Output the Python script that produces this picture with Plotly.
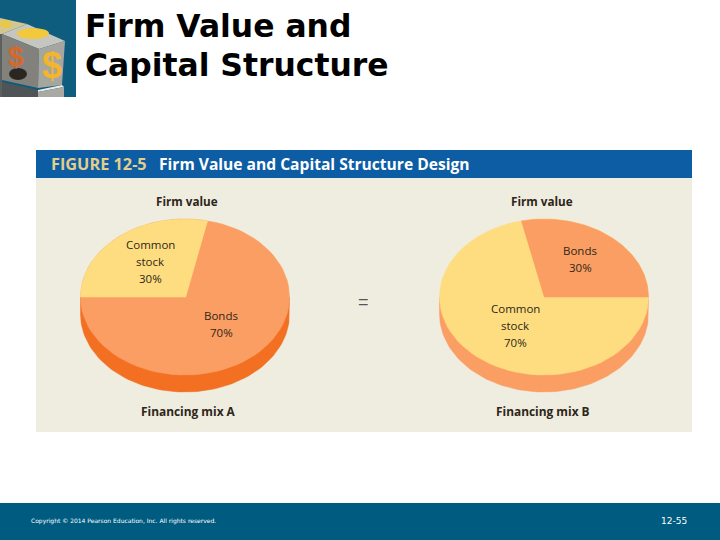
import numpy as np
import plotly.graph_objects as go

title_lines = ["Firm Value and", "Capital Structure"]
figure_no = "FIGURE 12-5"
figure_title = "Firm Value and Capital Structure Design"
pie_title = "Firm value"
mix_names = ["Financing mix A", "Financing mix B"]
bonds_share = [70, 30]
stock_share = [30, 70]
footer_left = "Copyright © 2014 Pearson Education, Inc. All rights reserved."
footer_right = "12-55"

BG_PANEL = "#efede0"
BAND = "#0d5da4"
FOOTER = "#005b80"
YELLOW = "#fedd80"
ORANGE = "#fb9e63"
DARK_ORANGE = "#f36f22"
LABEL_FONT = "Open Sans"
INK = "#2e2619"

RX, RY, DEPTH = 104.5, 78, 17
# the drawn wedges come out a bit narrower than their share of a full turn
SWEEP = 342


def arc(cx, cy, t0, t1, dy=0):
    t = np.radians(np.linspace(t0, t1, 90))
    return cx + RX * np.cos(t), cy - RY * np.sin(t) + dy


def poly(fig, x, y, color):
    fig.add_trace(go.Scatter(x=x, y=y, mode="lines", fill="toself", fillcolor=color,
                             line=dict(color=color, width=0.5), hoverinfo="skip", showlegend=False))


def note(text, x, y, size=12, color=INK, font=LABEL_FONT, anchor="center", bold=False):
    if bold:
        text = "<b>" + text + "</b>"
    fig.add_annotation(x=x, y=y, text=text, showarrow=False, xanchor=anchor, yanchor="middle",
                       align="center", borderpad=0, borderwidth=0,
                       font=dict(size=size, color=color, family=font))


def stacked(lines, x, y, size=11.5):
    # hand placed line spacing, wider than the default annotation leading
    for k, line in enumerate(lines):
        note(line, x, y + 17 * k, size=size)


def face(path, color):
    fig.add_shape(type="path", path=path, fillcolor=color, line_width=0)


fig = go.Figure()

# panel, band and footer
fig.add_shape(type="rect", x0=36, x1=692, y0=150, y1=432, fillcolor=BG_PANEL, line_width=0, layer="below")
fig.add_shape(type="rect", x0=36, x1=692, y0=150, y1=178, fillcolor=BAND, line_width=0, layer="below")
fig.add_shape(type="rect", x0=0, x1=720, y0=503, y1=540, fillcolor=FOOTER, line_width=0, layer="below")

# corner icon
fig.add_shape(type="rect", x0=0, x1=76, y0=0, y1=97, fillcolor="#0e5c7e", line_width=0, layer="below")
face("M0,18 L27,24 L2,34 L0,34 Z", "#d3c78f")
face("M2,34 L27,24 L65,41 L39,49 Z", "#c6c6c1")
face("M2,34 L39,49 L38,88 L2,80 Z", "#82817c")
face("M39,49 L65,41 L62,85 L38,88 Z", "#a6a6a1")
face("M0,34 L2,34 L2,97 L0,97 Z", "#5c5f60")
face("M2,82 L38,90 L38,97 L2,97 Z", "#4f5456")
face("M38,90 L62,85 L64,87 L38,92 Z", "#e9e9e6")
face("M38,92 L64,87 L64,97 L38,97 Z", "#a9a9a4")
fig.add_shape(type="circle", x0=17, x1=49, y0=28, y1=39, fillcolor="#f2c93c", line_width=0)
fig.add_shape(type="circle", x0=0, x1=11, y0=20, y1=28, fillcolor="#e8c84a", line_width=0)
fig.add_shape(type="circle", x0=9, x1=27, y0=68, y1=80, fillcolor="#2b2622", line_width=0)
note("$", 52, 65, size=36, color="#f2b52c", font="Liberation Sans", bold=True)
note("$", 16, 56, size=28, color="#d8682a", font="Liberation Sans", bold=True)

# the two pies
centers = [(185, 297), (544, 297)]
side_colors = [DARK_ORANGE, ORANGE]
title_x = [187, 542]
mix_x = [188, 543]
for i, (cx, cy) in enumerate(centers):
    # pie thickness
    xs, ys = arc(cx, cy, 0, -180, DEPTH)
    poly(fig, np.r_[cx + RX, xs, cx - RX], np.r_[cy, ys, cy], side_colors[i])

    # full ellipse in the major colour, smaller share on top
    xs, ys = arc(cx, cy, 0, 360)
    poly(fig, xs, ys, ORANGE if bonds_share[i] > stock_share[i] else YELLOW)
    if bonds_share[i] > stock_share[i]:
        sweep = stock_share[i] / 100 * SWEEP
        xs, ys = arc(cx, cy, 180, 180 - sweep)
        poly(fig, np.r_[cx + 1, xs], np.r_[cy, ys], YELLOW)
    else:
        sweep = bonds_share[i] / 100 * SWEEP
        xs, ys = arc(cx, cy, 0, sweep)
        poly(fig, np.r_[cx, xs], np.r_[cy, ys], ORANGE)

    note(pie_title, title_x[i], 201, size=11.7, bold=True)
    note(mix_names[i], mix_x[i], 411, size=11.9, bold=True)

stacked(["Common", "stock", f"{stock_share[0]}%"], 150, 244)
stacked(["Bonds", f"{bonds_share[0]}%"], 221, 315)
stacked(["Bonds", f"{bonds_share[1]}%"], 580, 250)
stacked(["Common", "stock", f"{stock_share[1]}%"], 515, 308)
note("=", 363, 302, size=18, color="#555555", font="Liberation Sans")

# text
note(title_lines[0], 85, 26, size=31.4, color="#000000", font="DejaVu Sans", anchor="left", bold=True)
note(title_lines[1], 85, 65, size=31.4, color="#000000", font="DejaVu Sans", anchor="left", bold=True)
note(figure_no, 51, 164, size=16.3, color="#e3cf8a", anchor="left", bold=True)
note(figure_title, 159, 164, size=15.6, color="#ffffff", anchor="left", bold=True)
note(footer_left, 31, 521, size=6, color="#ffffff", font="DejaVu Sans", anchor="left")
note(footer_right, 661, 521, size=9, color="#ffffff", font="DejaVu Sans", anchor="left")

fig.update_xaxes(range=[0, 720], visible=False)
fig.update_yaxes(range=[540, 0], visible=False)
fig.update_layout(width=720, height=540, margin=dict(l=0, r=0, t=0, b=0),
                  paper_bgcolor="white", plot_bgcolor="white", showlegend=False)
fig.write_html("out.html", post_script="document.body.style.margin='0';", config=dict(displayModeBar=False))
